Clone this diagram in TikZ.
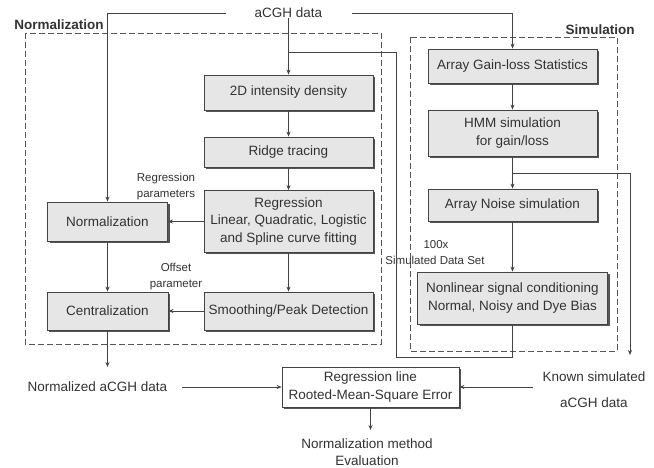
\documentclass[tikz,border=0pt]{standalone}
\usepackage{fontspec}
\setmainfont{Liberation Sans}
\usetikzlibrary{arrows.meta,shadows}
\definecolor{ink}{HTML}{333333}
\definecolor{linec}{HTML}{444444}
\definecolor{boxfill}{HTML}{E6E6E6}
\definecolor{shadowc}{HTML}{555555}
\begin{document}
\begin{tikzpicture}[x=1pt,y=-1pt,
  every node/.style={text=ink},
  procbox/.style={draw=linec,line width=0.8pt,fill=boxfill,align=center,
    font=\fontsize{13.5}{17.5}\selectfont,inner sep=0pt,
    drop shadow={shadow xshift=2pt,shadow yshift=-2pt,opacity=1,fill=shadowc}},
  whitebox/.style={procbox,fill=white},
  lbl/.style={font=\fontsize{13.5}{17.5}\selectfont,align=center,inner sep=0pt},
  small/.style={font=\fontsize{11.5}{16}\selectfont,align=center,inner sep=0pt},
  ttl/.style={font=\bfseries\fontsize{13.5}{16}\selectfont,inner sep=0pt},
  conn/.style={draw=linec,line width=0.7pt},
  arr/.style={conn,-{Stealth[length=5pt,width=4pt]}},
  dashbox/.style={draw=shadowc,line width=0.8pt,dash pattern=on 6pt off 3pt}
]
\useasboundingbox (0,0) rectangle (654,468);
\fill[white] (0,0) rectangle (654,468);

% dashed frames and titles
\draw[dashbox] (25,33) rectangle (381,344);
\draw[dashbox] (410,37) rectangle (617,351);
\node[ttl] (tnorm) at (59,25) {Normalization};
\node[ttl] (tsim) at (600,30) {Simulation};

% input
\node[lbl] (acgh) at (288.5,13) {aCGH data};
\coordinate (aL) at (226,13);
\coordinate (aR) at (352,13);

% normalization pipeline
\node[procbox,minimum width=169pt,minimum height=35pt] (d2) at (288.5,92.5) {2D intensity density};
\node[procbox,minimum width=169pt,minimum height=30pt] (ridge) at (288.5,152) {Ridge tracing};
\node[procbox,minimum width=169pt,minimum height=62pt] (regr) at (288.5,221.5) {Regression\\Linear, Quadratic, Logistic\\and Spline curve fitting};
\node[procbox,minimum width=169pt,minimum height=38pt] (smooth) at (288.5,311) {Smoothing/Peak Detection};
\node[procbox,minimum width=120pt,minimum height=39pt] (norm) at (107.5,221.5) {Normalization};
\node[procbox,minimum width=121pt,minimum height=38pt] (cent) at (107.5,311) {Centralization};

\node[small] (rp) at (166,187) {Regression\\parameters};
\node[small] (op) at (176,276.5) {Offset\\parameter};

% simulation pipeline
\node[procbox,minimum width=169pt,minimum height=34pt] (gain) at (512.5,66) {Array Gain-loss Statistics};
\node[procbox,minimum width=169pt,minimum height=46pt] (hmm) at (512.5,133) {HMM simulation\\for gain/loss};
\node[procbox,minimum width=169pt,minimum height=32pt] (noise) at (512.5,205) {Array Noise simulation};
\node[procbox,minimum width=190pt,minimum height=52pt] (nonlin) at (512.5,298) {Nonlinear signal conditioning\\Normal, Noisy and Dye Bias};
\node[small] (hx) at (436,245) {100x};
\node[small] (sds) at (435,260) {Simulated Data Set};

% evaluation
\node[lbl] (ntxt) at (97.5,387) {Normalized aCGH data};
\node[whitebox,minimum width=177pt,minimum height=40pt] (rmse) at (370.5,387) {Regression line\\Rooted-Mean-Square Error};
\node[lbl] (ks1) at (594,377) {Known simulated};
\node[lbl] (ks2) at (594,403) {aCGH data};
\node[lbl] (eval) at (367,452) {Normalization method\\Evaluation};

\coordinate (j1) at (288.5,52);
\coordinate (fbT) at (396,52);
\coordinate (fbB) at (396,357);
\coordinate (j2) at (512.5,173);
\coordinate (kTop) at (630,173);
\coordinate (kEnd) at (630,355);
\coordinate (nEnd) at (107.5,367);
\coordinate (nStart) at (182,387);
\coordinate (kStart) at (533,387);
\coordinate (eEnd) at (370.5,430);

% connectors
\draw[arr] (aL) -| (norm.north);
\draw[arr] (aR) -| (gain.north);
\draw[arr] (acgh.south) -- (d2.north);
\draw[conn] (nonlin.south) |- (fbB) -- (fbT) -- (j1);
\draw[arr] (d2) -- (ridge);
\draw[arr] (ridge) -- (regr);
\draw[arr] (regr) -- (smooth);
\draw[arr] (regr.west) -- (norm.east);
\draw[arr] (smooth.west) -- (cent.east);
\draw[arr] (norm) -- (cent);
\draw[arr] (cent.south) -- (nEnd);
\draw[arr] (gain) -- (hmm);
\draw[arr] (hmm) -- (noise);
\draw[conn] (j2) -- (kTop);
\draw[arr] (kTop) -- (kEnd);
\draw[arr] (noise) -- (nonlin);
\draw[arr] (nStart) -- (rmse.west);
\draw[arr] (kStart) -- (rmse.east);
\draw[arr] (rmse.south) -- (eEnd);
\end{tikzpicture}
\end{document}
